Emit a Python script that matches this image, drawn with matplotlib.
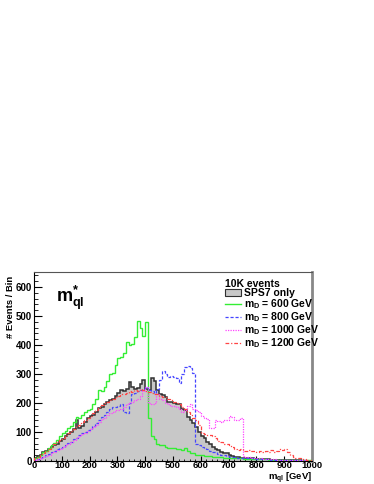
import numpy as np
import matplotlib
matplotlib.use("Agg")
import matplotlib.pyplot as plt
from matplotlib.patches import Patch
from matplotlib.lines import Line2D

# -------------------------------
# 1. Histogram contents (10 GeV bins, 0-1000 GeV)
# -------------------------------
bin_edges = np.arange(0, 1001, 10)

sps7_only = [
    12, 18, 22, 30, 35, 42, 48, 55, 60, 68,
    75, 85, 92, 100, 110, 140, 115, 120, 135, 150,
    155, 160, 170, 182, 185, 195, 205, 210, 215, 225,
    235, 245, 240, 250, 272, 255, 250, 252, 265, 279,
    248, 245, 285, 275, 245, 232, 228, 220, 205, 203,
    200, 198, 195, 180, 176, 152, 140, 130, 118, 100,
    85, 79, 67, 60, 50, 42, 38, 32, 29, 28,
    20, 18, 15, 14, 12, 12, 10, 10, 9, 8,
    8, 7, 7, 6, 6, 5, 5, 4, 4, 3,
    3, 3, 2, 2, 2, 2, 1, 1, 1, 1,
]

md_600 = [
    10, 15, 22, 30, 35, 45, 55, 62, 72, 85,
    95, 105, 113, 120, 135, 153, 150, 160, 170, 176,
    180, 195, 215, 245, 240, 255, 275, 300, 305, 330,
    355, 360, 372, 410, 400, 405, 427, 484, 460, 430,
    480, 150, 85, 75, 60, 55, 55, 50, 45, 45,
    45, 40, 40, 38, 45, 35, 28, 27, 22, 20,
    20, 18, 18, 16, 15, 15, 14, 13, 12, 12,
    11, 10, 10, 9, 9, 8, 8, 8, 7, 7,
    7, 6, 6, 6, 5, 5, 5, 5, 4, 4,
    4, 4, 3, 3, 3, 3, 2, 2, 2, 2,
]

md_800 = [
    5, 8, 12, 15, 20, 25, 30, 35, 40, 45,
    50, 55, 62, 67, 75, 80, 88, 95, 100, 107,
    112, 120, 130, 140, 153, 160, 170, 178, 185, 188,
    190, 195, 170, 165, 200, 230, 235, 240, 245, 250,
    255, 245, 240, 235, 250, 280, 310, 300, 290, 292,
    290, 285, 270, 300, 325, 328, 320, 305, 60, 55,
    50, 45, 40, 35, 32, 30, 25, 22, 20, 18,
    15, 14, 13, 12, 12, 10, 10, 9, 9, 8,
    8, 7, 7, 6, 6, 5, 5, 5, 4, 4,
    4, 3, 3, 3, 2, 2, 2, 2, 1, 1,
]

md_1000 = [
    5, 8, 12, 15, 18, 22, 28, 32, 38, 42,
    48, 55, 60, 65, 72, 78, 85, 92, 98, 105,
    110, 118, 125, 135, 145, 150, 160, 165, 170, 175,
    175, 180, 185, 195, 200, 205, 210, 215, 225, 240,
    255, 200, 195, 200, 230, 215, 210, 200, 195, 190,
    190, 185, 180, 170, 175, 190, 195, 180, 175, 170,
    155, 150, 145, 113, 115, 140, 138, 135, 140, 142,
    155, 152, 140, 142, 150, 18, 15, 14, 12, 12,
    10, 9, 8, 8, 7, 6, 6, 5, 5, 4,
    4, 3, 3, 3, 2, 2, 2, 2, 1, 1,
]

md_1200 = [
    10, 15, 20, 28, 35, 42, 50, 57, 65, 72,
    80, 88, 95, 105, 112, 120, 125, 135, 140, 148,
    155, 165, 175, 185, 193, 200, 205, 210, 215, 222,
    225, 230, 232, 235, 240, 238, 245, 240, 250, 245,
    240, 238, 235, 232, 230, 225, 222, 220, 215, 210,
    205, 200, 195, 185, 180, 170, 160, 150, 140, 125,
    95, 92, 88, 90, 85, 80, 70, 65, 60, 58,
    55, 50, 42, 38, 40, 36, 35, 38, 34, 33,
    32, 35, 30, 34, 32, 38, 30, 33, 40, 38,
    42, 30, 20, 15, 12, 10, 8, 6, 5, 4,
]

legend_title = "10K events"
legend_labels = ["SPS7 only", "$m_{D}$ = 600 GeV", "$m_{D}$ = 800 GeV",
                 "$m_{D}$ = 1000 GeV", "$m_{D}$ = 1200 GeV"]

# -------------------------------
# 2. Style
# -------------------------------
plt.rcParams['font.family'] = ['Liberation Sans', 'DejaVu Sans']
plt.rcParams['font.weight'] = 'bold'
plt.rcParams['mathtext.fontset'] = 'custom'
plt.rcParams['mathtext.rm'] = 'Liberation Sans:bold'
plt.rcParams['mathtext.it'] = 'Liberation Sans:bold'
plt.rcParams['mathtext.bf'] = 'Liberation Sans:bold'

fig = plt.figure(figsize=(3.74, 4.84), dpi=100)
ax = fig.add_axes([34/374, 23/484, 278/374, 189/484])

# -------------------------------
# 3. Histograms
# -------------------------------
ax.stairs(sps7_only, bin_edges, fill=True, color='#c8c8c8', zorder=1)
ax.stairs(sps7_only, bin_edges, color='#303030', lw=1.1, zorder=2)
ax.stairs(md_600, bin_edges, color='#33ee33', lw=1.0, zorder=3)
ax.stairs(md_800, bin_edges, color='#4444ff', lw=0.9, ls=(0, (2.5, 1.5)), zorder=3)
ax.stairs(md_1000, bin_edges, color='#ff44ff', lw=0.9, ls=(0, (1, 1)), zorder=3)
ax.stairs(md_1200, bin_edges, color='#ff4444', lw=0.9, ls=(0, (3, 1.5, 1, 1.5)), zorder=3)

ax.set_xlim(0, 1000)
ax.set_ylim(0, 652)

ax.set_xticks(np.arange(0, 1001, 100))
ax.set_xticks(np.arange(0, 1001, 20), minor=True)
ax.set_yticks(np.arange(0, 601, 100))
ax.set_yticks(np.arange(0, 651, 20), minor=True)
ax.tick_params(axis='both', which='both', direction='in', labelsize=7)
ax.tick_params(axis='x', which='major', length=3.5, width=0.8, pad=0, labelsize=6.8)
ax.tick_params(axis='x', which='minor', length=1.8, width=0.6)
ax.tick_params(axis='y', which='major', length=6, width=0.8, pad=1.5)
ax.tick_params(axis='y', which='minor', length=3, width=0.6)
for lab in ax.get_xticklabels() + ax.get_yticklabels():
    lab.set_fontweight('bold')

ax.spines['top'].set_color('#555555')
ax.spines['top'].set_linewidth(0.8)
ax.spines['right'].set_color('#888888')
ax.spines['right'].set_linewidth(2.0)

# -------------------------------
# 4. Labels and legend
# -------------------------------
ax.text(56/374, 1 - 302/484, r'$m_{ql}^{*}$', transform=fig.transFigure,
        fontsize=13, va='baseline', ha='left')
fig.text(10.5/374, 1 - 276/484, '# Events / Bin', rotation=90, ha='center',
         va='top', fontsize=6.8, fontweight='bold')
fig.text(312/374, 1 - 480/484, r'$m_{ql}$ [GeV]', ha='right', va='baseline',
         fontsize=6.8)

handles = [
    Patch(facecolor='#c8c8c8', edgecolor='#303030', lw=0.8),
    Line2D([], [], color='#33ee33', lw=1.0),
    Line2D([], [], color='#4444ff', lw=0.9, ls=(0, (2.5, 1.5))),
    Line2D([], [], color='#ff44ff', lw=0.9, ls=(0, (1, 1))),
    Line2D([], [], color='#ff4444', lw=0.9, ls=(0, (3, 1.5, 1, 1.5))),
]
leg = ax.legend(handles, legend_labels, title=legend_title, loc='upper left',
                bbox_to_anchor=(0.66, 1.0), frameon=False, fontsize=7.5,
                title_fontsize=7.5, handlelength=1.55, handleheight=0.6,
                handletextpad=0.25, labelspacing=-0.08, borderaxespad=0.3,
                alignment='left')
leg.get_title().set_fontweight('bold')

plt.savefig("out.png", dpi=100)
